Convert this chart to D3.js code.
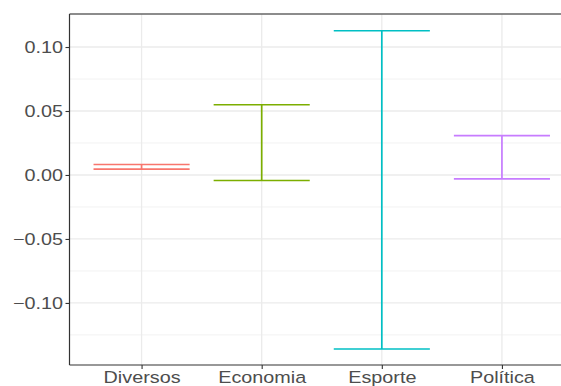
<!DOCTYPE html>
<html>
<head>
<meta charset="utf-8">
<script src="https://cdn.jsdelivr.net/npm/d3@7"></script>
<style>
  body { margin: 0; background: #fff; }
  svg { display: block; }
  text { font-family: "Liberation Sans", Arial, sans-serif; }
</style>
</head>
<body>
<svg id="chart" width="561" height="386"></svg>
<script>
// Categories and the lower / upper ends of each interval
const categories = ["Diversos", "Economia", "Esporte", "Política"];
const lowerValues = [0.0045, -0.0043, -0.136, -0.003];
const upperValues = [0.0082, 0.0549, 0.1127, 0.0307];
const colors = ["#F8766D", "#7CAE00", "#00BFC4", "#C77CFF"];
const yTicks = [-0.10, -0.05, 0.00, 0.05, 0.10];
const yMinorTicks = [-0.125, -0.075, -0.025, 0.025, 0.075];

const svg = d3.select("#chart");
const mLeft = 69.5, mTop = 14, mBottom = 365, mRight = 574;
const fontPx = 16.5, stretch = 1.2;

// discrete axis with 0.6 units of padding on each side
const step = (mRight - mLeft) / (categories.length - 1 + 1.2);
const xs = d3.scalePoint()
  .domain(categories)
  .range([mLeft + 0.6 * step, mRight - 0.6 * step]);

const y = d3.scaleLinear()
  .domain([-0.1485, 0.1258])
  .range([mBottom, mTop]);

const g = svg.append("g");

// minor grid
g.selectAll("line.minor").data(yMinorTicks).join("line").attr("class", "minor")
  .attr("x1", mLeft).attr("x2", 561)
  .attr("y1", d => y(d)).attr("y2", d => y(d))
  .attr("stroke", "#F2F2F2").attr("stroke-width", 1);

// major grid
g.selectAll("line.major").data(yTicks).join("line").attr("class", "major")
  .attr("x1", mLeft).attr("x2", 561)
  .attr("y1", d => y(d)).attr("y2", d => y(d))
  .attr("stroke", "#EBEBEB").attr("stroke-width", 1.3);

g.selectAll("line.vmajor").data(categories).join("line").attr("class", "vmajor")
  .attr("x1", d => xs(d)).attr("x2", d => xs(d))
  .attr("y1", mTop).attr("y2", mBottom)
  .attr("stroke", "#EBEBEB").attr("stroke-width", 1.3);

// error bars
const rows = categories.map((c, i) => ({ c, lo: lowerValues[i], hi: upperValues[i], col: colors[i] }));
const halfW = step * 0.4;
const eb = g.selectAll("g.eb").data(rows).join("g").attr("class", "eb");
eb.append("line")
  .attr("x1", d => xs(d.c)).attr("x2", d => xs(d.c))
  .attr("y1", d => y(d.hi)).attr("y2", d => y(d.lo))
  .attr("stroke", d => d.col).attr("stroke-width", 1.7);
eb.append("line")
  .attr("x1", d => xs(d.c) - halfW).attr("x2", d => xs(d.c) + halfW)
  .attr("y1", d => y(d.hi)).attr("y2", d => y(d.hi))
  .attr("stroke", d => d.col).attr("stroke-width", 1.7);
eb.append("line")
  .attr("x1", d => xs(d.c) - halfW).attr("x2", d => xs(d.c) + halfW)
  .attr("y1", d => y(d.lo)).attr("y2", d => y(d.lo))
  .attr("stroke", d => d.col).attr("stroke-width", 1.7);

// top border
svg.append("line")
  .attr("x1", mLeft).attr("x2", 561).attr("y1", mTop).attr("y2", mTop)
  .attr("stroke", "#666").attr("stroke-width", 1.6);

// y axis
const fmt = d => (d < 0 ? "\u2212" : "") + Math.abs(d).toFixed(2);
const yAxis = d3.axisLeft(y).tickValues(yTicks).tickFormat(fmt).tickSize(4).tickPadding(3);
const ya = svg.append("g").attr("transform", `translate(${mLeft},0)`).call(yAxis);
ya.select(".domain").attr("stroke", "#333").attr("stroke-width", 1.2).attr("d", `M0,${mTop}V${mBottom}`);
ya.selectAll(".tick line").attr("stroke", "#333").attr("stroke-width", 1.1);
ya.selectAll(".tick text").attr("fill", "#4D4D4D").style("font-size", fontPx + "px")
  .style("font-family", "'Liberation Sans', Arial, sans-serif")
  .attr("x", -6.5 / stretch)
  .attr("transform", `scale(${stretch},1)`);

// x axis
const xAxis = d3.axisBottom(xs).tickSize(4).tickPadding(2.3);
const xa = svg.append("g").attr("transform", `translate(0,${mBottom})`).call(xAxis);
xa.select(".domain").attr("stroke", "#333").attr("stroke-width", 1.2).attr("d", `M${mLeft},0H561`);
xa.selectAll(".tick line").attr("stroke", "#333").attr("stroke-width", 1.1);
xa.selectAll(".tick text").attr("fill", "#4D4D4D").style("font-size", fontPx + "px")
  .style("font-family", "'Liberation Sans', Arial, sans-serif")
  .attr("transform", `scale(${stretch},1)`);
</script>
</body>
</html>
